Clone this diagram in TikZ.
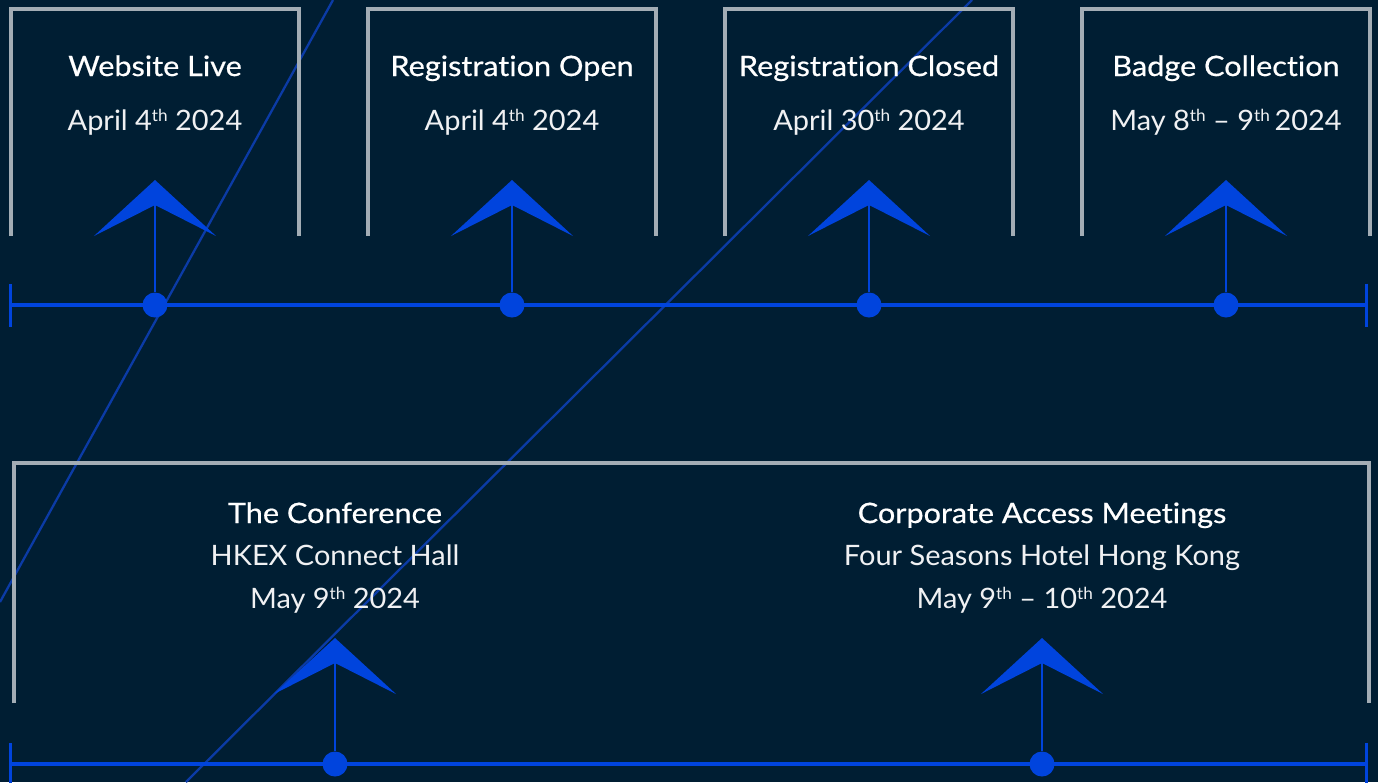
\documentclass[tikz,border=0pt]{standalone}
\usepackage{fontspec}
\setmainfont{Lato}
\newfontfamily\headfont[FakeStretch=1.09,FakeBold=0.6,Ligatures={TeX,NoCommon}]{Lato}
\newfontfamily\datefont[FakeStretch=1.03,Ligatures={TeX,NoCommon}]{Lato}
\usetikzlibrary{arrows.meta}

\definecolor{navy}{HTML}{001E33}
\definecolor{evblue}{HTML}{0044DD}
\definecolor{boxgrey}{HTML}{A3ADB5}
\definecolor{diagblue}{HTML}{0B3BA6}
\newcommand{\ord}[1]{\raisebox{0.62ex}{\fontsize{9.5}{10}\selectfont #1}}

\tikzset{
  frame/.style={draw=boxgrey, line width=1.9pt},
  axis/.style={draw=evblue, line width=1.8pt, {Bar[width=0.86cm]}-{Bar[width=0.86cm]}},
  evarrow/.style={draw=evblue, line width=1.3pt, -{Stealth[length=1.12cm,width=2.44cm,inset=0.62cm]}},
  evdot/.style={circle, fill=evblue, inner sep=0pt, minimum size=0.5cm},
  title/.style={text=white, font=\headfont\fontsize{16}{19}\selectfont, anchor=base},
  date/.style={text=white!94!navy, font=\datefont\fontsize{16}{19}\selectfont, anchor=base},
}

\begin{document}
\begin{tikzpicture}[x=0.02cm, y=-0.02cm]
  \fill[navy] (0,0) rectangle (1378,782);
  \useasboundingbox (0,0) rectangle (1378,782);

  % background lines
  \begin{scope}
    \clip (0,0) rectangle (1378,782);
    \draw[diagblue, line width=1.3pt] (333,0) -- (0,602);
    \draw[diagblue, line width=1.3pt] (972,0) -- (186,782);
  \end{scope}

  % top timeline
  \coordinate (startA) at (9,305);
  \coordinate (endA) at (1368,305);
  \draw[axis] (startA) -- (endA);

  \foreach \i/\cx/\ttl/\dt in {1/155/Website Live/April 4\ord{th} 2024,
      2/512/Registration Open/April 4\ord{th} 2024,
      3/869/Registration Closed/April 30\ord{th} 2024,
      4/1226/Badge Collection/May 8\ord{th} -- 9\ord{th}\,2024}
  {
    \draw[frame] (\cx-144,236) -- (\cx-144,9) -- (\cx+144,9) -- (\cx+144,236);
    \node[title] (title\i) at (\cx,76) {\ttl};
    \node[date] (date\i) at (\cx,130) {\dt};
    \coordinate (tip\i) at (\cx,180);
    \node[evdot] (dot\i) at (\cx,305) {};
    \draw[evarrow] (dot\i) -- (tip\i);
  }

  % bottom timeline
  \draw[frame] (14,703) -- (14,463) -- (1369,463) -- (1369,703);
  \coordinate (startB) at (9,764);
  \coordinate (endB) at (1368,764);
  \draw[axis] (startB) -- (endB);

  \node[title] (confT) at (335,523) {The Conference};
  \node[date] (confP) at (335,565) {HKEX Connect Hall};
  \node[date] (confD) at (335,608) {May 9\ord{th} 2024};
  \coordinate (confTip) at (335,638);
  \node[evdot] (confDot) at (335,764) {};
  \draw[evarrow] (confDot) -- (confTip);

  \node[title] (corpT) at (1042,523) {Corporate Access Meetings};
  \node[date] (corpP) at (1042,565) {Four Seasons Hotel Hong Kong};
  \node[date] (corpD) at (1042,608) {May 9\ord{th} -- 10\ord{th} 2024};
  \coordinate (corpTip) at (1042,638);
  \node[evdot] (corpDot) at (1042,764) {};
  \draw[evarrow] (corpDot) -- (corpTip);
\end{tikzpicture}
\end{document}
